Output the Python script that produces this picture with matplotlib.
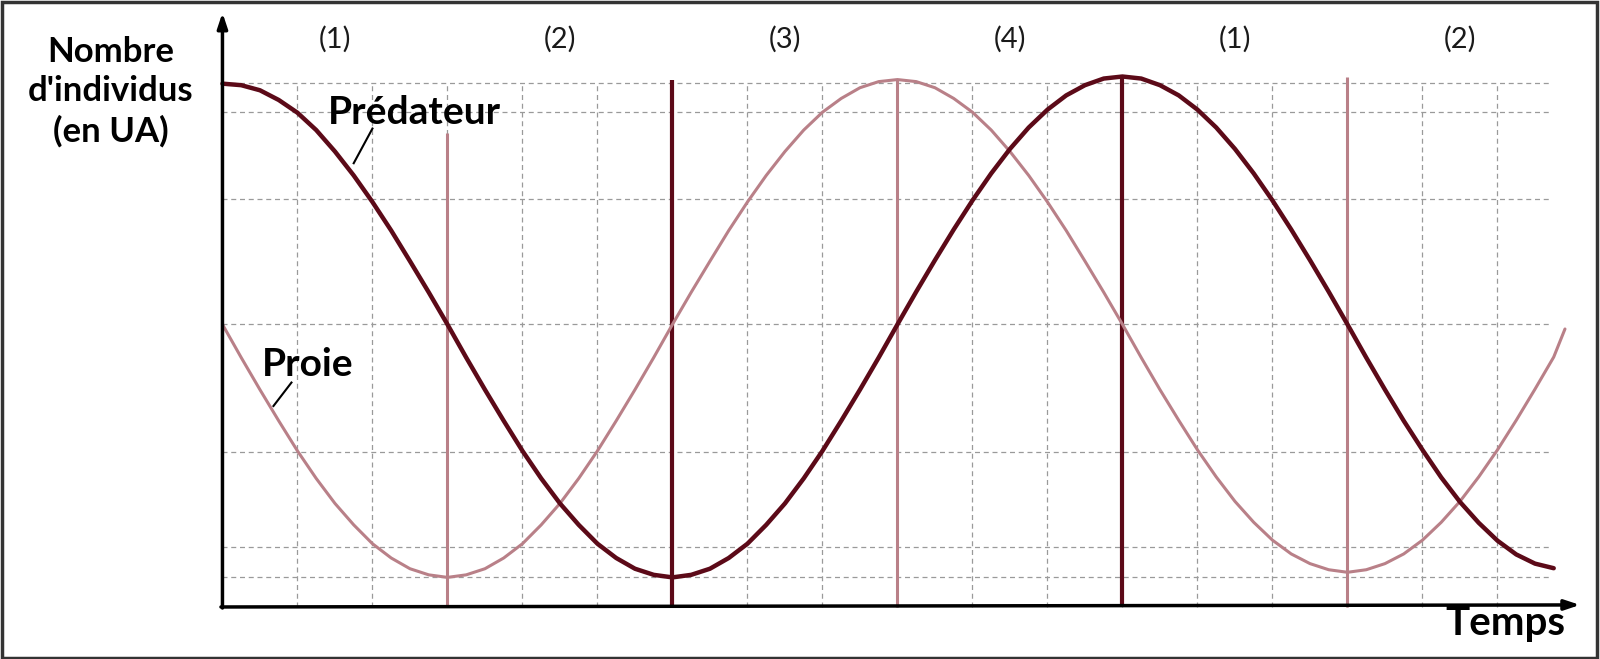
import matplotlib
matplotlib.use("Agg")
import matplotlib.pyplot as plt
from matplotlib.patches import Rectangle

plt.rcParams['font.family'] = ['Lato', 'DejaVu Sans']

# ---- data (x in grid cells, y in arbitrary units) ----
time_x = [i * 0.25 for i in range(72)]  # 0 .. 17.75, read every quarter cell

pred_y = [10.26, 10.23, 10.13, 9.94, 9.69, 9.35, 8.93, 8.46, 7.94, 7.38, 6.78, 6.17, 5.54,
          4.89, 4.26, 3.65, 3.06, 2.52, 2.03, 1.61, 1.24, 0.96, 0.75, 0.63, 0.58,
          0.63, 0.75, 0.96, 1.24, 1.61, 2.03, 2.52, 3.06, 3.65, 4.26, 4.89, 5.54,
          6.18, 6.80, 7.40, 7.97, 8.50, 8.98, 9.40, 9.75, 10.03, 10.23, 10.36, 10.40,
          10.36, 10.23, 10.03, 9.75, 9.40, 8.98, 8.50, 7.97, 7.40, 6.80, 6.18, 5.54,
          4.89, 4.26, 3.65, 3.08, 2.54, 2.06, 1.65, 1.30, 1.03, 0.85, 0.76]

prey_y = [5.54, 4.89, 4.26, 3.65, 3.06, 2.52, 2.03, 1.61, 1.24, 0.96, 0.75, 0.63, 0.58,
          0.63, 0.75, 0.96, 1.24, 1.61, 2.03, 2.52, 3.06, 3.65, 4.26, 4.89, 5.54,
          6.17, 6.78, 7.38, 7.94, 8.46, 8.93, 9.35, 9.70, 9.97, 10.18, 10.30, 10.34,
          10.30, 10.18, 9.97, 9.70, 9.35, 8.93, 8.46, 7.94, 7.38, 6.78, 6.17, 5.54,
          4.89, 4.26, 3.66, 3.08, 2.55, 2.07, 1.66, 1.31, 1.04, 0.85, 0.73, 0.68,
          0.73, 0.85, 1.04, 1.31, 1.66, 2.07, 2.55, 3.08, 3.66, 4.27, 4.90]
prey_end_x = 17.9
prey_end_y = 5.45

grid_levels = [10.28, 9.7, 8.0, 5.54, 3.04, 1.18, 0.58]
grid_cols = list(range(1, 18))

phase_x = [3, 6, 9, 12, 15]
phase_top = [9.3, 10.34, 10.34, 10.4, 10.4]
phase_dark = [False, True, False, True, False]

phase_labels = ["(1)", "(2)", "(3)", "(4)", "(1)", "(2)"]
phase_label_x = [1.5, 4.5, 7.5, 10.5, 13.5, 16.5]

DARK = "#5c0a18"
LIGHT = "#b98088"

fig = plt.figure(figsize=(16, 6.59), dpi=100)
ax = fig.add_axes([0, 0, 1, 1])
ax.set_xlim(-2.966, 18.367)
ax.set_ylim(-1.02, 11.9)
ax.axis("off")

# grid
gx_end = 17.7
for lv in grid_levels:
    ax.plot([0, gx_end], [lv, lv], color="#9a9a9a", lw=0.9, ls=(0, (4, 3)), zorder=1)
for gx in grid_cols:
    ax.plot([gx, gx], [0, grid_levels[0]], color="#9a9a9a", lw=0.9, ls=(0, (4, 3)), zorder=1)

# phase lines
for px, pt, dk in zip(phase_x, phase_top, phase_dark):
    ax.plot([px, px], [0, pt], color=DARK if dk else LIGHT, lw=3.0 if dk else 2.2,
            zorder=2, solid_capstyle="butt")

# curves
ax.plot(time_x + [prey_end_x], prey_y + [prey_end_y], color=LIGHT, lw=2.2, zorder=3,
        solid_capstyle="round", solid_joinstyle="round")
ax.plot(time_x, pred_y, color=DARK, lw=3.2, zorder=4,
        solid_capstyle="round", solid_joinstyle="round")

# axes with arrows
ax.annotate("", xy=(0, 11.65), xytext=(0, -0.02),
            arrowprops=dict(arrowstyle="-|>,head_length=0.9,head_width=0.3", color="black",
                            lw=2.5, shrinkA=0, shrinkB=0), zorder=5)
ax.annotate("", xy=(18.1, 0.04), xytext=(-0.02, 0),
            arrowprops=dict(arrowstyle="-|>,head_length=0.9,head_width=0.3", color="black",
                            lw=2.5, shrinkA=0, shrinkB=0), zorder=5)

# phase labels
for lab, lx in zip(phase_labels, phase_label_x):
    ax.text(lx, 11.12, lab, ha="center", va="center", fontsize=21, color="#1a1a1a")

# texts
ax.text(-1.49, 10.1, "Nombre\nd'individus\n(en UA)", ha="center", va="center",
        fontsize=25, fontweight="bold", linespacing=1.3)
ax.text(1.40, 9.7, "Prédateur", ha="left", va="center", fontsize=28, fontweight="bold", zorder=6)
ax.plot([2.0, 1.75], [9.38, 8.7], color="black", lw=1.5, zorder=6)
ax.text(0.52, 4.76, "Proie", ha="left", va="center", fontsize=28, fontweight="bold", zorder=6)
ax.plot([0.92, 0.68], [4.4, 3.94], color="black", lw=1.5, zorder=6)
ax.text(17.1, -0.32, "Temps", ha="center", va="center", fontsize=29, fontweight="bold")

# outer frame
fig.patches.append(Rectangle((0.001, 0.002), 0.997, 0.995, transform=fig.transFigure,
                             fill=False, edgecolor="#333333", lw=2.5))

fig.savefig("out.png", dpi=100)
